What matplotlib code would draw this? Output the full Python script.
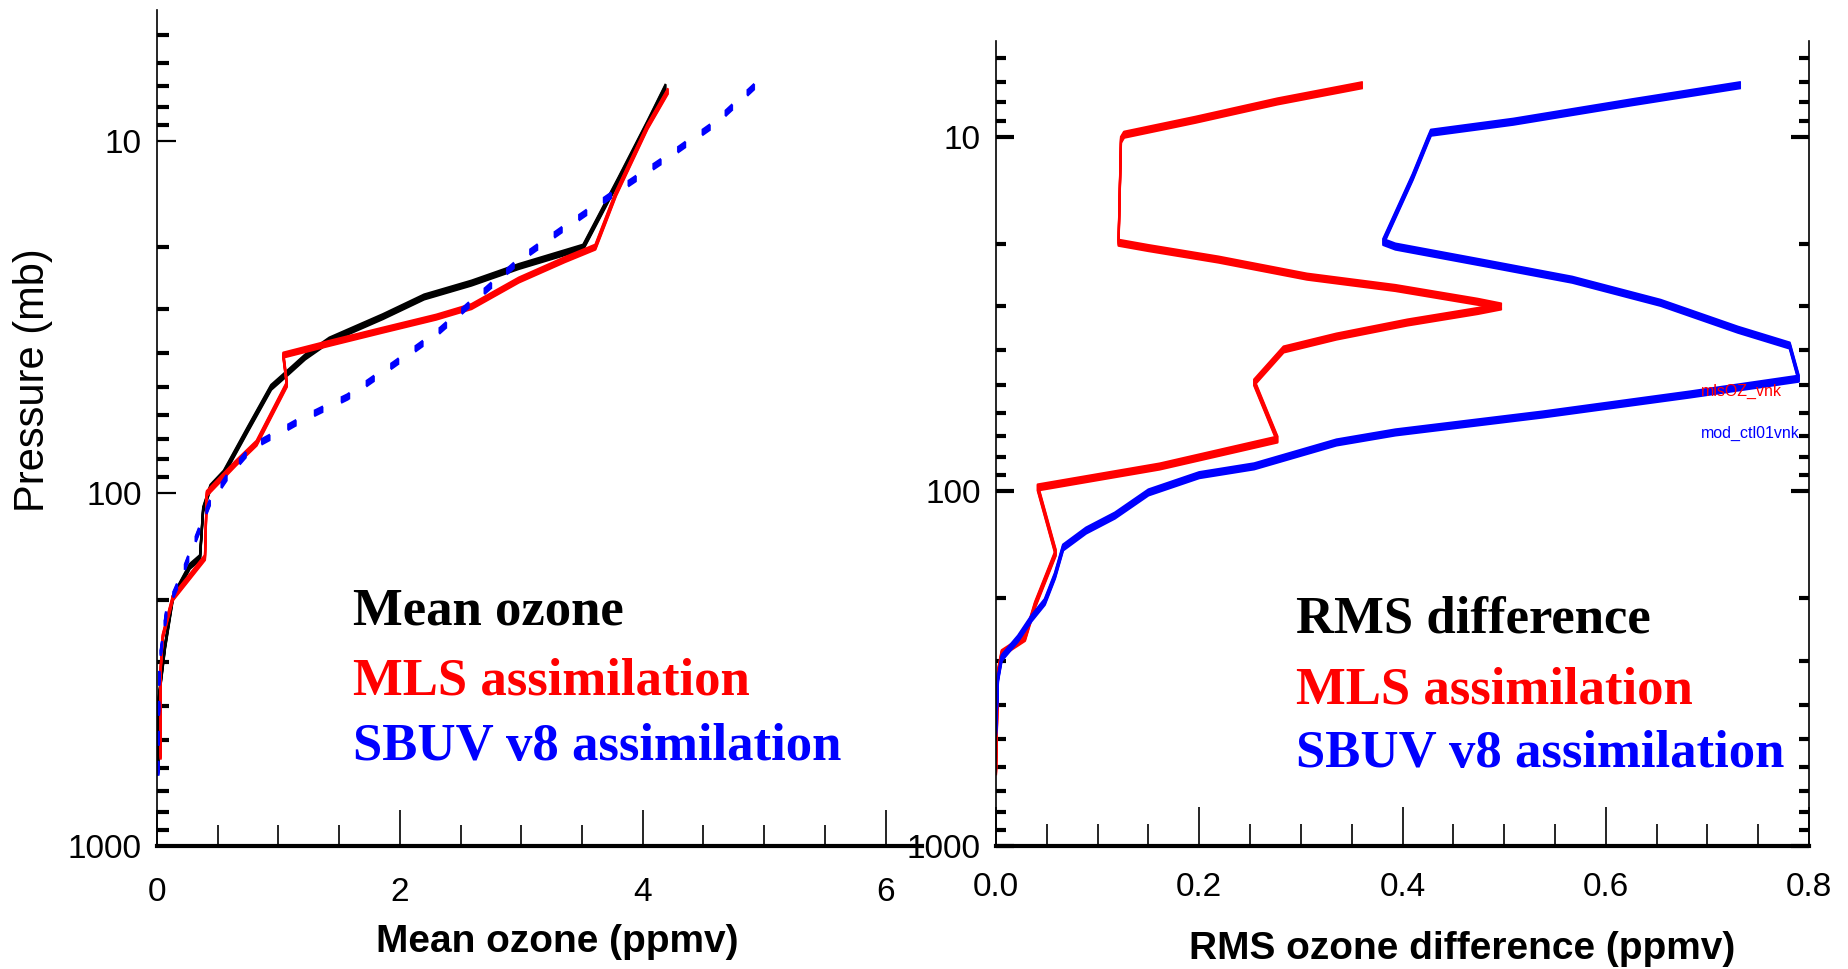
import matplotlib
matplotlib.use("Agg")
import matplotlib.pyplot as plt
import matplotlib.transforms as mtransforms
import numpy as np
from matplotlib.ticker import LogLocator, MultipleLocator, NullFormatter, FixedLocator

# ---- left panel: mean ozone profiles (pressure in mb, ozone in ppmv)
p_mean = [7.0, 8.9, 12.9, 20.0, 22.7, 25.3, 27.7, 31.5, 36.7, 41, 45, 50, 66, 87.5,
          96, 111, 152, 161, 198, 272, 393, 610]
o3_mean = [4.19, 4.04, 3.80, 3.51, 2.98, 2.59, 2.20, 1.86, 1.42, 1.22, 1.09, 0.94, 0.745, 0.55,
           0.44, 0.38, 0.354, 0.27, 0.13, 0.066, 0.01, 0.01]

p_mls = [7.2, 9.1, 14.1, 20.0, 21.7, 24.8, 29.5, 31.6, 34.4, 37.5, 40.5, 49, 72, 82,
         100, 152, 198, 255, 316, 560]
o3_mls = [4.21, 4.04, 3.78, 3.61, 3.36, 2.98, 2.59, 2.30, 1.86, 1.42, 1.04, 1.07, 0.82, 0.65,
          0.41, 0.395, 0.13, 0.047, 0.03, 0.03]

p_sbuv = [7.0, 9.0, 11.2, 13.8, 17.1, 21.3, 27, 35.2, 42.8, 53.2, 62, 67.5, 73.6, 87.5,
          106, 129, 172, 214, 302, 630]
o3_sbuv = [4.92, 4.58, 4.19, 3.80, 3.41, 3.02, 2.68, 2.30, 1.96, 1.57, 1.18, 0.99, 0.79, 0.60,
           0.436, 0.34, 0.20, 0.08, 0.02, 0.01]

# ---- right panel: RMS difference
p_rms_mls = [7.15, 7.95, 8.96, 9.87, 10.2, 19.9, 20.6, 22.2, 24.8, 26.7, 29.2, 30.1, 31.0, 33.4,
             36.6, 39.8, 49.3, 71.4, 85.1, 97.5, 149, 209, 259, 286, 323, 620]
rms_mls = [0.361, 0.277, 0.196, 0.126, 0.123, 0.1206, 0.15, 0.219, 0.306, 0.393, 0.474, 0.497,
           0.474, 0.405, 0.335, 0.283, 0.254, 0.277, 0.161, 0.041, 0.0588, 0.0384, 0.0285,
           0.0056, 0.002, 0.0]

p_rms_sbuv = [7.15, 8.0, 9.07, 9.74, 10.2, 13.0, 19.8, 20.4, 22.7, 25.3, 29.4, 35.0, 38.8, 48.1,
              53.3, 60.7, 68.2, 72.8, 85, 90, 100.7, 117, 129, 144, 173, 205, 228, 260, 295,
              337, 480]
rms_sbuv = [0.733, 0.625, 0.509, 0.428, 0.425, 0.41, 0.381, 0.393, 0.48, 0.567, 0.654, 0.73,
            0.781, 0.79, 0.683, 0.538, 0.393, 0.335, 0.254, 0.2, 0.15, 0.117, 0.0886, 0.066,
            0.058, 0.048, 0.035, 0.0217, 0.0056, 0.002, 0.0]

left_xticks = [0, 2, 4, 6]
right_xticks = [0.0, 0.2, 0.4, 0.6, 0.8]
yticks = [10, 100, 1000]

SANS = ['Liberation Sans', 'DejaVu Sans']
SERIF = ['Liberation Serif', 'DejaVu Serif']
TICKSIZE = 24

fig = plt.figure(figsize=(18.48, 9.69), dpi=100)
W, H = 1848., 969.
ax1 = fig.add_axes([157 / W, 123 / H, 765 / W, 836 / H])
ax2 = fig.add_axes([996 / W, 123 / H, 813 / W, 805 / H])


def tall_line(ax, x, y, color, ls='-', spread=2.5, n=6, lw=1.6):
    # the original lines look stretched vertically: thick when flat, thin when steep
    for dy in np.linspace(-spread, spread, n):
        tr = mtransforms.offset_copy(ax.transData, fig=fig, x=0, y=dy, units='dots')
        ax.plot(x, y, color=color, lw=lw, ls=ls, transform=tr, solid_capstyle='butt')


tall_line(ax1, o3_mean, p_mean, 'black', spread=2.5)
tall_line(ax1, o3_mls, p_mls, '#ff0000', spread=2.5)
tall_line(ax1, o3_sbuv, p_sbuv, '#0000ff', ls=(0, (4, 8)), spread=2.5, lw=1.8)

tall_line(ax2, rms_mls, p_rms_mls, '#ff0000', spread=3)
tall_line(ax2, rms_sbuv, p_rms_sbuv, '#0000ff', spread=3)

for ax in (ax1, ax2):
    ax.set_yscale('log')
    ax.yaxis.set_major_locator(FixedLocator(yticks))
    ax.set_yticklabels([str(t) for t in yticks])
    ax.yaxis.set_minor_locator(LogLocator(base=10, subs=range(2, 10)))
    ax.yaxis.set_minor_formatter(NullFormatter())
    ax.spines['top'].set_visible(False)
    ax.spines['left'].set_linewidth(1.2)
    ax.spines['bottom'].set_linewidth(3)
    for lab in ax.get_yticklabels():
        lab.set_family(SANS)
        lab.set_fontsize(TICKSIZE)

ax1.set_ylim(1000, 4.25)
ax1.set_xlim(0, 6.3)
ax1.spines['right'].set_visible(False)
ax1.set_xticks(left_xticks)
ax1.set_xticklabels([str(t) for t in left_xticks], family=SANS, fontsize=TICKSIZE)
ax1.xaxis.set_minor_locator(MultipleLocator(0.5))
ax1.tick_params(axis='x', which='major', direction='in', length=26, width=1.2, pad=22)
ax1.tick_params(axis='x', which='minor', direction='in', length=15, width=1.2)
ax1.tick_params(axis='y', which='major', direction='in', length=14, width=1.6, pad=11)
ax1.tick_params(axis='y', which='minor', direction='in', length=8.5, width=3)

ax2.set_ylim(1000, 5.37)
ax2.set_xlim(0, 0.8)
ax2.spines['right'].set_linewidth(1.2)
ax2.set_xticks(right_xticks)
ax2.set_xticklabels(['%.1f' % t for t in right_xticks], family=SANS, fontsize=TICKSIZE)
ax2.xaxis.set_minor_locator(MultipleLocator(0.05))
ax2.tick_params(axis='x', which='major', direction='in', length=28, width=1.2, pad=19)
ax2.tick_params(axis='x', which='minor', direction='in', length=16, width=1.2)
ax2.tick_params(axis='y', which='major', direction='in', length=13, width=3, pad=11,
                right=True)
ax2.tick_params(axis='y', which='minor', direction='in', length=7, width=3, right=True)

ax1.set_xlabel('Mean ozone (ppmv)', family=SANS, fontsize=28, fontweight='bold')
ax1.xaxis.set_label_coords(0.523, -0.093)
ax1.set_ylabel('Pressure (mb)', family=SANS, fontsize=30, va='center')
ax1.yaxis.set_label_coords(-0.162, 0.557)

ax2.set_xlabel('RMS ozone difference (ppmv)', family=SANS, fontsize=28, fontweight='bold')
ax2.xaxis.set_label_coords(0.573, -0.105)

# legends written as coloured text
leg1 = [('Mean ozone', 'black', 0.2644), ('MLS assimilation', '#ff0000', 0.1818),
        ('SBUV v8 assimilation', '#0000ff', 0.1029)]
for txt, c, y in leg1:
    ax1.text(0.2556, y, txt, transform=ax1.transAxes, color=c, family=SERIF,
             fontsize=38, fontweight='bold', va='baseline')

leg2 = [('RMS difference', 'black', 0.2646), ('MLS assimilation', '#ff0000', 0.1776),
        ('SBUV v8 assimilation', '#0000ff', 0.0981)]
for txt, c, y in leg2:
    ax2.text(0.369, y, txt, transform=ax2.transAxes, color=c, family=SERIF,
             fontsize=38, fontweight='bold', va='baseline')

ax2.text(0.867, 0.565, 'mlsOZ_vnk', transform=ax2.transAxes, color='#ff0000',
         family=SANS, fontsize=11.5, va='center', zorder=5)
ax2.text(0.867, 0.513, 'mod_ctl01vnk', transform=ax2.transAxes, color='#0000ff',
         family=SANS, fontsize=11.5, va='center', zorder=5)

fig.savefig('out.png', dpi=100)
